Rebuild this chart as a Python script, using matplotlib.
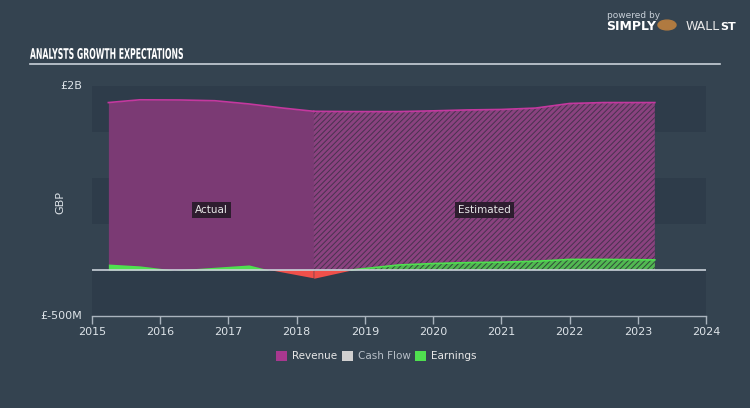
import matplotlib
matplotlib.use("Agg")
import matplotlib.pyplot as plt
import numpy as np
from matplotlib.textpath import TextPath
from matplotlib.patches import PathPatch
from matplotlib.font_manager import FontProperties
from matplotlib.transforms import Affine2D

# Data (GBP millions)
rev_actual_x = [2015.24, 2015.7, 2016.3, 2016.8, 2017.3, 2017.8, 2018.25]
rev_actual_y = [1820, 1850, 1848, 1840, 1805, 1760, 1725]
rev_est_x = [2018.25, 2018.8, 2019.5, 2020.0, 2020.5, 2021.0, 2021.5, 2022.0, 2022.5, 2023.25]
rev_est_y = [1725, 1722, 1722, 1730, 1740, 1745, 1760, 1810, 1820, 1820]
earn_actual_x = [2015.24, 2015.7, 2016.2, 2016.8, 2017.3, 2017.6, 2018.25]
earn_actual_y = [65, 45, 0, 30, 55, 0, -90]
earn_est_x = [2018.25, 2018.8, 2019.5, 2020.0, 2020.5, 2021.0, 2021.5, 2022.0, 2022.5, 2023.25]
earn_est_y = [-90, 0, 55, 70, 80, 85, 95, 115, 115, 110]
x_ticks = [2015, 2016, 2017, 2018, 2019, 2020, 2021, 2022, 2023, 2024]
legend_labels = ["Revenue", "Cash Flow", "Earnings"]
legend_colors = ["#a8388f", "#d0d0d0", "#4fe04f"]
title = "ANALYSTS GROWTH EXPECTATIONS"

BG = "#344350"
BAND = "#2e3c4a"
REV_FILL = "#7b3a74"
REV_LINE = "#c4389f"
GREEN = "#4fe04f"
RED = "#f0504a"

plt.rcParams['hatch.linewidth'] = 0.7
fig = plt.figure(figsize=(7.5, 4.08), dpi=100, facecolor=BG)
ax = fig.add_axes([92/750, 1-316/408, (706-92)/750, (316-86)/408])
ax.set_facecolor(BG)
ax.set_xlim(2015, 2024)
ax.set_ylim(-500, 2000)

# background bands
for lo, hi in [(1500, 2000), (500, 1000), (-500, 0)]:
    ax.axhspan(lo, hi, color=BAND, zorder=0, lw=0)

# revenue actual
ax.fill_between(rev_actual_x, 0, rev_actual_y, color=REV_FILL, lw=0, zorder=1)
ax.plot(rev_actual_x, rev_actual_y, color=REV_LINE, lw=1.2, zorder=3)
# revenue estimated (hatched)
ax.fill_between(rev_est_x, 0, rev_est_y, facecolor="#8a427f", edgecolor="#48324f",
                hatch="//////", lw=0, zorder=1)
ax.plot(rev_est_x, rev_est_y, color=REV_LINE, lw=1.2, zorder=3)

# earnings actual
ea_x = np.array(earn_actual_x); ea_y = np.array(earn_actual_y)
ax.fill_between(ea_x, 0, ea_y, where=ea_y >= 0, interpolate=True, color=GREEN, lw=0, zorder=2)
ax.fill_between(ea_x, 0, ea_y, where=ea_y <= 0, interpolate=True, color=RED, lw=0, zorder=2)
# earnings estimated
ee_x = np.array(earn_est_x); ee_y = np.array(earn_est_y)
ax.fill_between(ee_x, 0, ee_y, where=ee_y >= 0, interpolate=True, facecolor="#52b852",
                edgecolor="#2f4a38", hatch="//////", lw=0, zorder=2)
ax.fill_between(ee_x, 0, ee_y, where=ee_y <= 0, interpolate=True, color=RED, lw=0, zorder=2)
ee_pos = np.clip(ee_y, 0, None)
ax.plot(ee_x[1:], ee_pos[1:], color=GREEN, lw=1.2, zorder=3)

# zero line
ax.axhline(0, color="#c8d0d8", lw=1.2, zorder=4)

# labels
ax.text(2016.75, 650, "Actual", color="#e8e8e8", fontsize=7.5, ha="center", va="center",
        bbox=dict(boxstyle="square,pad=0.3", fc="#2e1d2f", ec="none"), zorder=5)
ax.text(2020.75, 650, "Estimated", color="#e8e8e8", fontsize=7.5, ha="center", va="center",
        bbox=dict(boxstyle="square,pad=0.3", fc="#2e1d2f", ec="none"), zorder=5)

# axes styling
for s in ["top", "right", "left"]:
    ax.spines[s].set_visible(False)
ax.spines["bottom"].set_color("#aab4be")
ax.spines["bottom"].set_linewidth(1.0)
ax.set_xticks(x_ticks)
ax.set_xticklabels([str(t) for t in x_ticks])
ax.tick_params(axis="x", colors="#aab4be", direction="out", length=6, width=1,
               labelcolor="#dde3e8", labelsize=8, pad=2)
ax.set_yticks([])
fig.text(82/750, 1-86/408, "£2B", color="#dde3e8", fontsize=8, ha="right", va="center")
fig.text(82/750, 1-316/408, "£-500M", color="#dde3e8", fontsize=8, ha="right", va="center")
fig.text(60/750, 1-203/408, "GBP", color="#dde3e8", fontsize=8, ha="center", va="center", rotation=90)

# title (horizontally condensed text path) and rule
tp = TextPath((0, 0), title, size=15, prop=FontProperties(family="DejaVu Sans", weight="bold"))
ext = tp.get_extents()
sx = 153 / ext.width
sy = 11 / ext.height
tr = Affine2D().translate(-ext.x0, -ext.y0).scale(sx, sy).translate(30, 408 - 59) \
    .scale(1/750, 1/408) + fig.transFigure
fig.add_artist(PathPatch(tp, transform=tr, color="#ffffff", lw=0))
fig.add_artist(plt.Line2D([30/750, 720/750], [1-64/408, 1-64/408], color="#c8d0d8", lw=1.2))

# logo text
fig.text(607/750, 1-15/408, "powered by", color="#c8d0d8", fontsize=6.5, ha="left", va="center")
fig.text(606/750, 1-27/408, "SIMPLY", color="#ffffff", fontsize=9, fontweight="bold", ha="left", va="center")
fig.text(686/750, 1-27/408, "WALL", color="#e8e8e8", fontsize=9, ha="left", va="center")
fig.text(720/750, 1-27/408, "ST", color="#ffffff", fontsize=8, fontweight="bold", ha="left", va="center")
fig.add_artist(plt.Circle((667/750, 1-25/408), 0.012, transform=fig.transFigure, color="#b07a40"))

# legend
lx = [276, 342, 415]
for x0, lab, col in zip(lx, legend_labels, legend_colors):
    fig.add_artist(plt.Rectangle((x0/750, 1-361/408), 11/750, 10/408, transform=fig.transFigure,
                                 color=col, lw=0))
    fig.text((x0+16)/750, 1-356/408, lab, color="#e8e8e8" if lab != "Cash Flow" else "#b8c0c8",
             fontsize=7.5, ha="left", va="center")

fig.savefig("out.png", dpi=100, facecolor=BG)
